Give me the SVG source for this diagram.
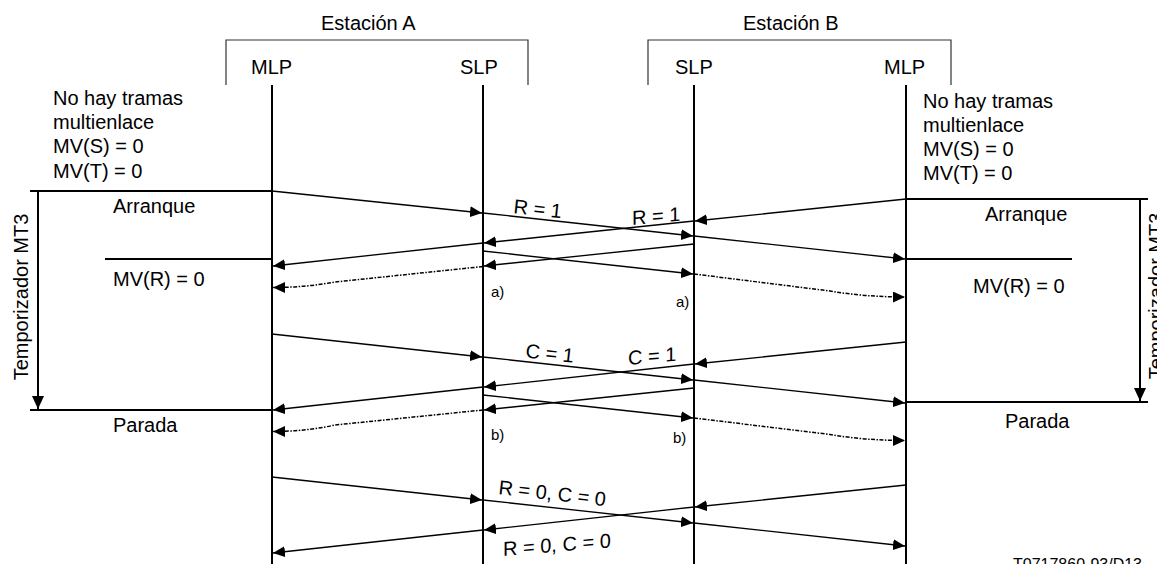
<svg xmlns="http://www.w3.org/2000/svg" width="1157" height="564" viewBox="0 0 1157 564">
<style>
text{font-family:"Liberation Sans",Arial,sans-serif;fill:#000;font-size:20px}
.sm{font-size:15px}
.cap{font-size:16px}
.life{stroke:#000;stroke-width:2;fill:none}
.brk{stroke:#333;stroke-width:1.2;fill:none}
.hl{stroke:#000;stroke-width:2;fill:none}
.msg{stroke:#000;stroke-width:1.3;fill:none;marker-end:url(#ah)}
.dot{stroke:#000;stroke-width:1.5;fill:none;stroke-dasharray:4 1.5 1.5 1.5;marker-end:url(#ah)}
.tmr{stroke:#000;stroke-width:2;fill:none;marker-end:url(#ahT)}
</style>
<defs>
<marker id="ah" markerUnits="userSpaceOnUse" markerWidth="12" markerHeight="11" refX="12" refY="5.5" orient="auto">
<path d="M0,0 L12,5.5 L0,11 z" fill="#000"/>
</marker>
<marker id="ahT" markerUnits="userSpaceOnUse" markerWidth="13" markerHeight="12" refX="13" refY="6" orient="auto">
<path d="M0,0 L13,6 L0,12 z" fill="#000"/>
</marker>
</defs>
<rect width="1157" height="564" fill="#fff"/>

<g id="station-a">
<path class="brk" d="M226,85 V40 H528 V85"/>
<text x="321" y="30">Estación A</text>
</g>
<g id="station-b">
<path class="brk" d="M648,85 V40 H951 V85"/>
<text x="743" y="30">Estación B</text>
</g>

<g id="mlp-a">
<text x="251" y="74">MLP</text>
<line class="life" x1="272" y1="85" x2="272" y2="564"/>
</g>
<g id="slp-a">
<text x="460" y="74">SLP</text>
<line class="life" x1="483" y1="85" x2="483" y2="564"/>
</g>
<g id="slp-b">
<text x="675" y="74">SLP</text>
<line class="life" x1="694" y1="85" x2="694" y2="564"/>
</g>
<g id="mlp-b">
<text x="884" y="74">MLP</text>
<line class="life" x1="906" y1="85" x2="906" y2="564"/>
</g>

<g id="state-a">
<text x="53" y="104.5">No hay tramas</text>
<text x="53" y="129">multienlace</text>
<text x="53" y="153">MV(S) = 0</text>
<text x="53" y="177.5">MV(T) = 0</text>
<line class="hl" x1="30" y1="191" x2="272" y2="191"/>
<text x="113" y="213">Arranque</text>
<line class="hl" x1="105" y1="259" x2="272" y2="259"/>
<text x="113" y="286">MV(R) = 0</text>
<line class="hl" x1="30" y1="410" x2="272" y2="410"/>
<text x="113" y="432">Parada</text>
<line class="tmr" x1="38" y1="191" x2="38" y2="409"/>
<text x="28" y="297" text-anchor="middle" transform="rotate(-90 28 297)">Temporizador MT3</text>
</g>

<g id="state-b">
<text x="923" y="108">No hay tramas</text>
<text x="923" y="132">multienlace</text>
<text x="923" y="156">MV(S) = 0</text>
<text x="923" y="180">MV(T) = 0</text>
<line class="hl" x1="906" y1="199" x2="1148" y2="199"/>
<text x="985" y="221">Arranque</text>
<line class="hl" x1="906" y1="259" x2="1072" y2="259"/>
<text x="973" y="293">MV(R) = 0</text>
<line class="hl" x1="906" y1="402" x2="1148" y2="402"/>
<text x="1005" y="428">Parada</text>
<line class="tmr" x1="1140" y1="199" x2="1140" y2="401"/>
<text x="1163" y="296" text-anchor="middle" transform="rotate(-90 1163 296)">Temporizador MT3</text>
</g>

<g id="connectors">
<line class="msg" x1="272" y1="191" x2="482" y2="213"/>
<line class="msg" x1="483" y1="213" x2="693" y2="236"/>
<line class="msg" x1="694" y1="236" x2="905" y2="259"/>
<line class="msg" x1="906" y1="199" x2="695" y2="221"/>
<line class="msg" x1="694" y1="221" x2="484" y2="243"/>
<line class="msg" x1="483" y1="243" x2="273" y2="266"/>
<line class="msg" x1="694" y1="244" x2="484" y2="266"/>
<line class="msg" x1="483" y1="251" x2="693" y2="274"/>
<path class="dot" d="M483,266.5 L335,282 Q305,287.5 273,287.5"/>
<path class="dot" d="M694,274 L830,291 Q865,297 905,297"/>

<line class="msg" x1="272" y1="334" x2="482" y2="357"/>
<line class="msg" x1="483" y1="357" x2="693" y2="380"/>
<line class="msg" x1="694" y1="380" x2="905" y2="403"/>
<line class="msg" x1="906" y1="342" x2="695" y2="364"/>
<line class="msg" x1="694" y1="364" x2="484" y2="387"/>
<line class="msg" x1="483" y1="387" x2="273" y2="410"/>
<line class="msg" x1="694" y1="388" x2="484" y2="410"/>
<line class="msg" x1="483" y1="395" x2="693" y2="418"/>
<path class="dot" d="M483,410 L335,425 Q305,431.5 273,431.5"/>
<path class="dot" d="M694,418 L830,434.5 Q865,440.5 905,440.5"/>

<line class="msg" x1="272" y1="477" x2="482" y2="500"/>
<line class="msg" x1="483" y1="500" x2="693" y2="523"/>
<line class="msg" x1="694" y1="523" x2="905" y2="546"/>
<line class="msg" x1="906" y1="485" x2="695" y2="507"/>
<line class="msg" x1="694" y1="507" x2="484" y2="530"/>
<line class="msg" x1="483" y1="530" x2="273" y2="553"/>
</g>

<g id="labels">
<text x="513" y="213" transform="rotate(6.2 513 213)">R = 1</text>
<text x="632" y="225" transform="translate(632 225) skewY(-5) translate(-632 -225)">R = 1</text>
<text class="sm" x="491" y="297">a)</text>
<text class="sm" x="676" y="307">a)</text>
<text x="525" y="357.5" transform="rotate(6.2 525 357.5)">C = 1</text>
<text x="628" y="365" transform="translate(628 365) skewY(-5) translate(-628 -365)">C = 1</text>
<text class="sm" x="491" y="440">b)</text>
<text class="sm" x="673" y="443">b)</text>
<text x="498" y="494" transform="rotate(6.5 498 494)">R = 0, C = 0</text>
<text x="503" y="556" transform="translate(503 556) skewY(-4.6) translate(-503 -556)">R = 0, C = 0</text>
<text class="cap" x="1013" y="570">T0717860-93/D13</text>
</g>
</svg>
